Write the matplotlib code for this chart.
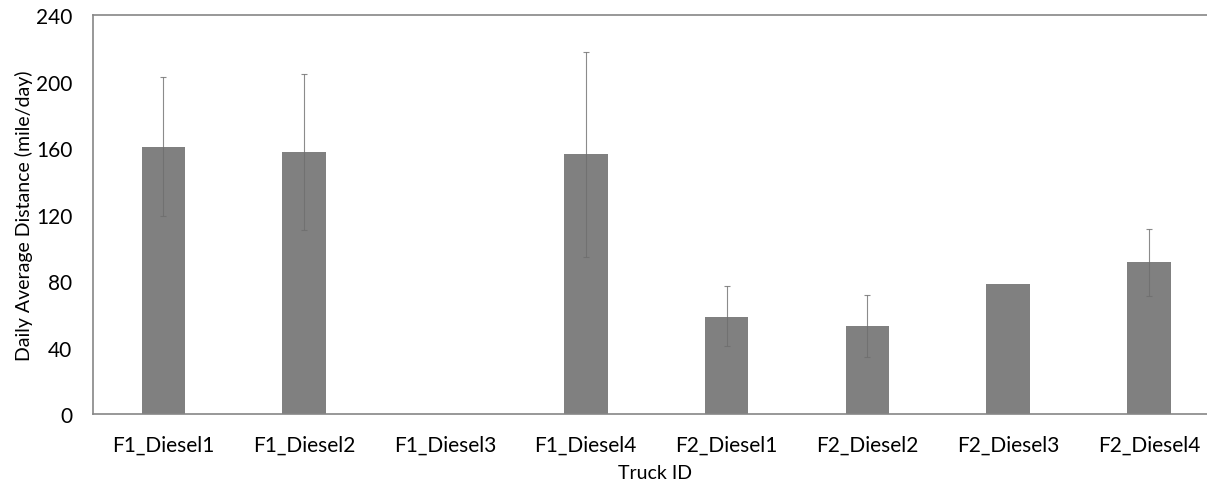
import matplotlib.pyplot as plt
import numpy as np

trucks = ['F1_Diesel1', 'F1_Diesel2', 'F1_Diesel3', 'F1_Diesel4',
          'F2_Diesel1', 'F2_Diesel2', 'F2_Diesel3', 'F2_Diesel4']
means = [160.6, 157.4, 0, 156.2, 58.7, 52.9, 78.3, 91.3]
err_hi = [202.5, 204.3, np.nan, 218.0, 76.9, 71.9, np.nan, 111.5]
err_lo = [119.0, 110.8, np.nan, 94.3, 40.9, 34.3, np.nan, 71.1]
yticks = [0, 40, 80, 120, 160, 200, 240]

plt.rcParams['font.family'] = ['Lato', 'DejaVu Sans']

fig = plt.figure(figsize=(12.07, 4.85), dpi=100)
ax = fig.add_axes([93 / 1207, 1 - 415.3 / 485, (1207 - 93) / 1207, 399.3 / 485])

x = np.arange(len(trucks))
ax.bar(x, means, width=0.31, color='#808080', zorder=2)

m = np.array(means)
hi = np.array(err_hi)
lo = np.array(err_lo)
has = ~np.isnan(hi)
ax.errorbar(x[has], m[has], yerr=[m[has] - lo[has], hi[has] - m[has]],
            fmt='none', ecolor='#6e6e6e', elinewidth=0.8, capsize=2.5,
            capthick=0.8, alpha=0.8, zorder=3)

ax.set_xlim(-0.5, 7 + (1207 - 1149) / 140.8)
ax.set_ylim(0, 240)
ax.set_yticks(yticks)
ax.set_xticks(x)
ax.set_xticklabels(trucks)
ax.tick_params(axis='both', length=0, labelsize=15, colors='black')
ax.tick_params(axis='y', pad=15)
ax.tick_params(axis='x', pad=15)

for side in ['left', 'top', 'bottom']:
    ax.spines[side].set_color('#868686')
    ax.spines[side].set_linewidth(1.2)
ax.spines['right'].set_visible(False)

ax.set_xlabel('Truck ID', fontsize=14)
ax.set_ylabel('Daily Average Distance (mile/day)', fontsize=14)
ax.xaxis.set_label_coords((655 - 93) / 1114, -(465 - 415.3) / 399.3)
ax.yaxis.set_label_coords(-(93 - 33) / 1114, (415.3 - 216) / 399.3)

fig.savefig('out.png', dpi=100)
